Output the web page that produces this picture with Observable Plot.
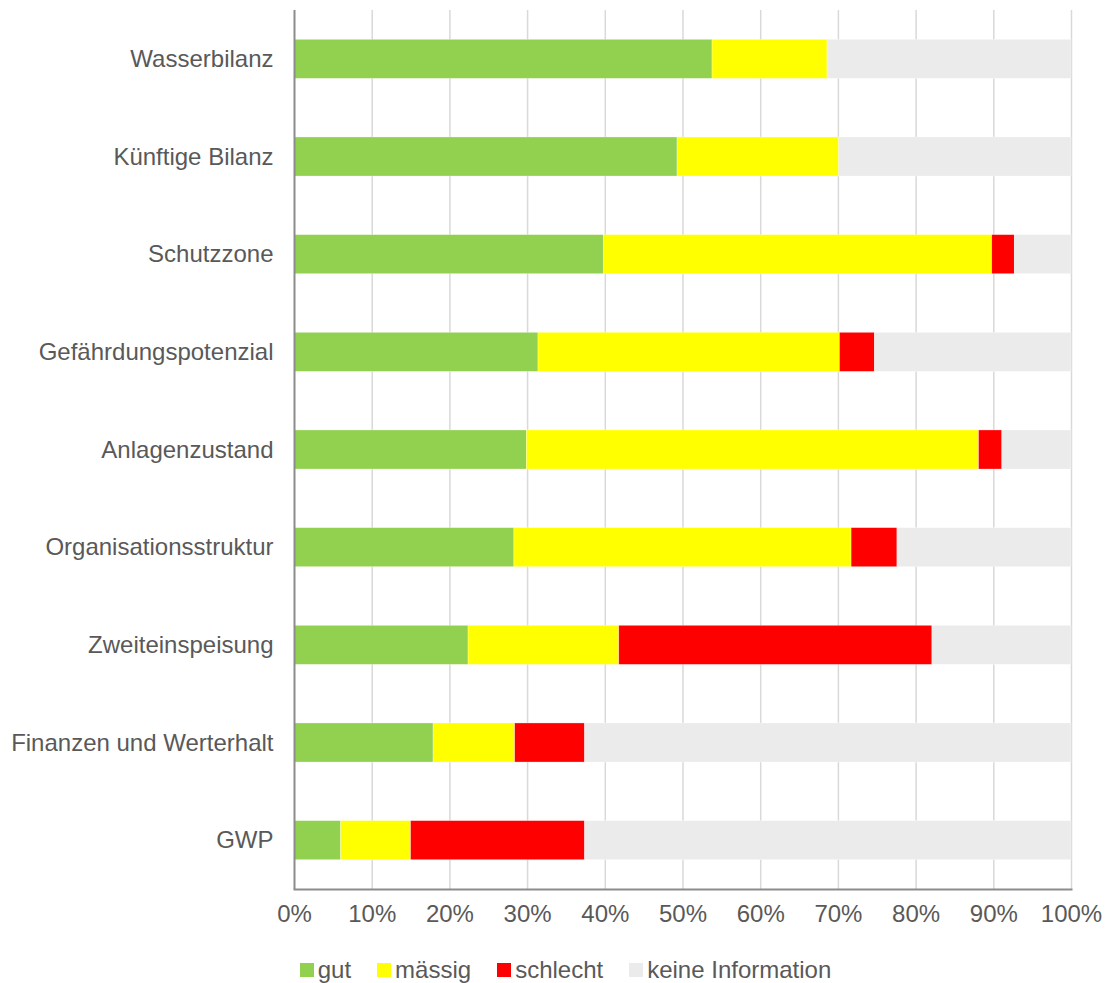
<!DOCTYPE html>
<html>
<head>
<meta charset="utf-8">
<script src="https://cdn.jsdelivr.net/npm/d3@7"></script>
<script src="https://cdn.jsdelivr.net/npm/@observablehq/plot@0.6"></script>
<style>
  body { margin: 0; background: #fff; font-family: "Liberation Sans", Arial, sans-serif; }
  #legend { display: flex; justify-content: center; align-items: center; margin-top: 15px; height: 30px;
            font-size: 24px; color: #595959; padding-left: 52px; }
  #legend .item { display: flex; align-items: center; margin-right: 26px; }
  #legend .sw { width: 14px; height: 14px; margin-right: 4px; }
</style>
</head>
<body>
<div id="chart"></div>
<div id="legend"></div>
<script>
const categories = ["Wasserbilanz", "Künftige Bilanz", "Schutzzone", "Gefährdungspotenzial", "Anlagenzustand",
  "Organisationsstruktur", "Zweiteinspeisung", "Finanzen und Werterhalt", "GWP"];
const seriesNames = ["gut", "mässig", "schlecht", "keine Information"];
const gut      = [53.8, 49.3, 39.8, 31.4, 29.9, 28.3, 22.4, 17.9, 6.0];
const maessig  = [14.8, 20.8, 50.0, 38.8, 58.2, 43.4, 19.4, 10.5, 9.0];
const schlecht = [0.0, 0.0, 2.9, 4.5, 3.0, 5.9, 40.3, 9.0, 22.4];
const keine    = [31.4, 29.9, 7.3, 25.3, 8.9, 22.4, 17.9, 62.6, 62.6];
const colors = ["#92D050", "#FFFF00", "#FF0000", "#EBEBEB"];
const xTicks = [0, 10, 20, 30, 40, 50, 60, 70, 80, 90, 100];

const valueSets = [gut, maessig, schlecht, keine];
const rows = [];
categories.forEach((c, i) => {
  seriesNames.forEach((s, j) => rows.push({cat: c, series: s, value: valueSets[j][i]}));
});

const plot = Plot.plot({
  width: 1105,
  height: 940,
  marginLeft: 294,
  marginRight: 34,
  marginTop: 10,
  marginBottom: 51,
  style: {fontFamily: '"Liberation Sans", Arial, sans-serif', fontSize: "24px", color: "#595959", background: "#fff"},
  x: {domain: [0, 100], ticks: xTicks, tickFormat: d => d + "%", label: null, tickSize: 0, tickPadding: 16},
  y: {domain: categories, paddingInner: 0.6, paddingOuter: 0.3, round: false, label: null, tickSize: 0, tickPadding: 21},
  color: {domain: seriesNames, range: colors},
  marks: [
    Plot.ruleX(xTicks.filter(d => d > 0), {stroke: "#D9D9D9", strokeWidth: 1.5}),
    Plot.barX(rows, Plot.stackX({x: "value", y: "cat", fill: "series", order: seriesNames, stroke: "#fff", strokeWidth: 0.6, strokeOpacity: 0.5})),
    Plot.ruleX([0], {stroke: "#8C8C8C", strokeWidth: 2}),
    Plot.frame({anchor: "bottom", stroke: "#8C8C8C", strokeWidth: 2}),
    Plot.axisY({tickSize: 0, tickPadding: 21, fontSize: 24, fill: "#595959"}),
    Plot.axisX({ticks: xTicks, tickFormat: d => d + "%", tickSize: 0, tickPadding: 15, fontSize: 24, fill: "#595959", label: null})
  ]
});
document.getElementById("chart").appendChild(plot);

const legend = document.getElementById("legend");
seriesNames.forEach((s, i) => {
  const it = document.createElement("div");
  it.className = "item";
  const sw = document.createElement("div");
  sw.className = "sw";
  sw.style.background = colors[i];
  const tx = document.createElement("span");
  tx.textContent = s;
  it.appendChild(sw); it.appendChild(tx);
  legend.appendChild(it);
});
</script>
</body>
</html>
